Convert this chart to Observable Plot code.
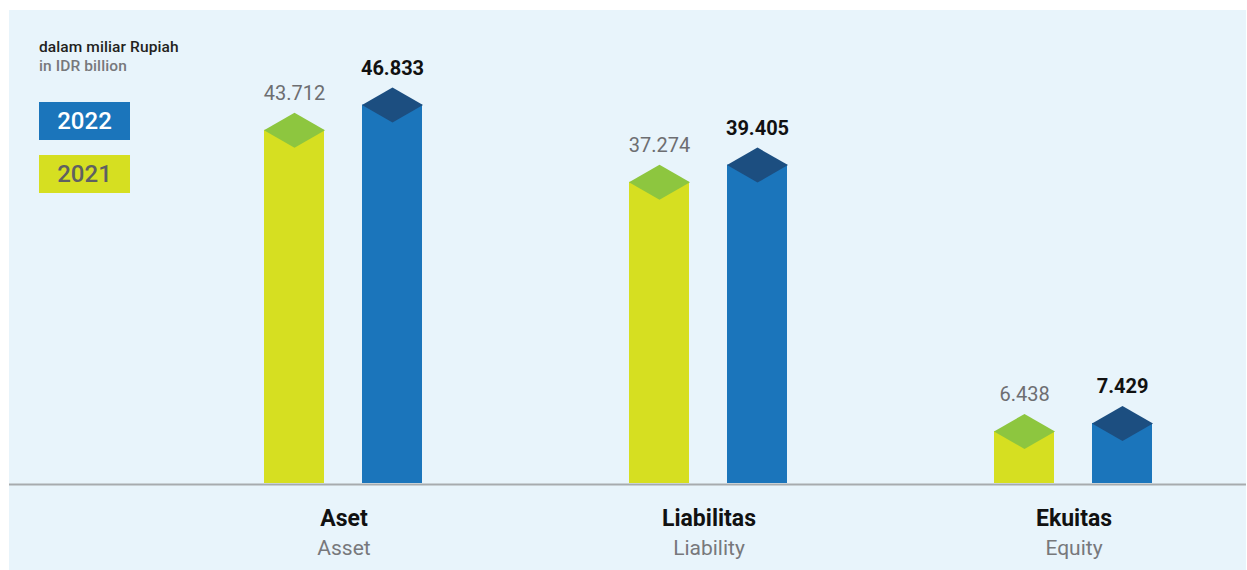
<!DOCTYPE html>
<html>
<head>
<meta charset="utf-8">
<script src="https://cdn.jsdelivr.net/npm/d3@7"></script>
<script src="https://cdn.jsdelivr.net/npm/@observablehq/plot@0.6"></script>
<style>
  body { margin: 0; background: #ffffff; font-family: Roboto, sans-serif; }
  #panel { position: absolute; left: 9px; top: 10px; width: 1237px; height: 560px; background: #e8f4fb; overflow: hidden; }
  #chart { position: absolute; left: 0; top: 0; }
  .unit1 { position: absolute; left: 30px; top: 28px; font-size: 15.5px; font-weight: 500; color: #231f20; line-height: 18px; letter-spacing: 0.1px; }
  .unit2 { position: absolute; left: 30px; top: 47px; font-size: 15.5px; font-weight: 500; color: #77787b; line-height: 18px; letter-spacing: 0.1px; }
  .key { position: absolute; left: 30px; width: 91px; height: 38px; display: flex; align-items: center; justify-content: center; font-size: 24px; font-weight: 500; }
</style>
</head>
<body>
<div id="panel">
  <div id="chart"></div>
  <div class="unit1">dalam miliar Rupiah</div>
  <div class="unit2">in IDR billion</div>
  <div id="legend"></div>
</div>
<script>
// ---- data ----
const categories = ["Aset", "Liabilitas", "Ekuitas"];
const categoriesEn = ["Asset", "Liability", "Equity"];
const years = ["2021", "2022"];
const values2021 = [43712, 37274, 6438];
const values2022 = [46833, 39405, 7429];
const legendYears = ["2022", "2021"];

// ---- styles ----
const barColors = {"2021": "#d6df21", "2022": "#1b75bb"};
const topColors = {"2021": "#8dc63f", "2022": "#1c4e80"};

const rows = categories.flatMap((c, i) => [
  {category: c, year: "2021", value: values2021[i]},
  {category: c, year: "2022", value: values2022[i]}
]);
const rows2021 = rows.filter(d => d.year === "2021");
const rows2022 = rows.filter(d => d.year === "2022");

const fmt = d3.formatLocale({decimal: ",", thousands: ".", grouping: [3], currency: ["Rp", ""]}).format(",");

// flat diamond symbol (cap of each bar)
const flatDiamond = {
  draw(ctx, size) {
    const w = Math.sqrt(size / Math.PI);
    const h = w * 17.5 / 30.5;
    ctx.moveTo(0, -h);
    ctx.lineTo(w, 0);
    ctx.lineTo(0, h);
    ctx.lineTo(-w, 0);
    ctx.closePath();
  }
};

const chart = Plot.plot({
  width: 1237,
  height: 560,
  marginTop: 69,
  marginBottom: 87,
  marginLeft: 0,
  marginRight: 0,
  style: {background: "transparent", fontFamily: "Roboto, sans-serif", overflow: "visible"},
  fx: {domain: categories, paddingInner: 0.4, paddingOuter: 0.3922, align: 0.7825, axis: null, label: null},
  x: {domain: years, paddingInner: 0.38384, paddingOuter: 0.2995, axis: null, label: null},
  y: {domain: [0, 50000], axis: null, label: null},
  marks: [
    Plot.barY(rows2021, {fx: "category", x: "year", y: "value", fill: barColors["2021"]}),
    Plot.barY(rows2022, {fx: "category", x: "year", y: "value", fill: barColors["2022"]}),
    Plot.dot(rows2021, {fx: "category", x: "year", y: "value", r: 30.5, symbol: flatDiamond, fill: topColors["2021"]}),
    Plot.dot(rows2022, {fx: "category", x: "year", y: "value", r: 30.5, symbol: flatDiamond, fill: topColors["2022"]}),
    Plot.text(rows2021, {fx: "category", x: "year", y: "value", text: d => fmt(d.value), lineAnchor: "bottom", dy: -30.5, fontSize: 20, fill: "#6d6e71"}),
    Plot.text(rows2022, {fx: "category", x: "year", y: "value", text: d => fmt(d.value), lineAnchor: "bottom", dy: -30.5, fontSize: 20, fontWeight: "bold", fill: "#111111"}),
    Plot.text(categories, {fx: d => d, frameAnchor: "bottom", lineAnchor: "bottom", dy: 42, text: d => d, fontSize: 23, fontWeight: "bold", fill: "#111111"}),
    Plot.text(categories, {fx: d => d, frameAnchor: "bottom", lineAnchor: "bottom", dy: 71.5, text: (d, i) => categoriesEn[i], fontSize: 21, fill: "#77787b"}),
    Plot.frame({anchor: "bottom", facet: "super", stroke: "#a7abae", strokeWidth: 2, dy: 1, insetLeft: -240, insetRight: -80})
  ]
});
document.getElementById("chart").appendChild(chart);

// legend
const legend = document.getElementById("legend");
legendYears.forEach((y, i) => {
  const k = document.createElement("div");
  k.className = "key";
  k.style.top = (92 + i * 53) + "px";
  k.style.background = barColors[y];
  k.style.color = y === "2022" ? "#ffffff" : "#5f6062";
  k.textContent = y;
  legend.appendChild(k);
});
</script>
</body>
</html>
